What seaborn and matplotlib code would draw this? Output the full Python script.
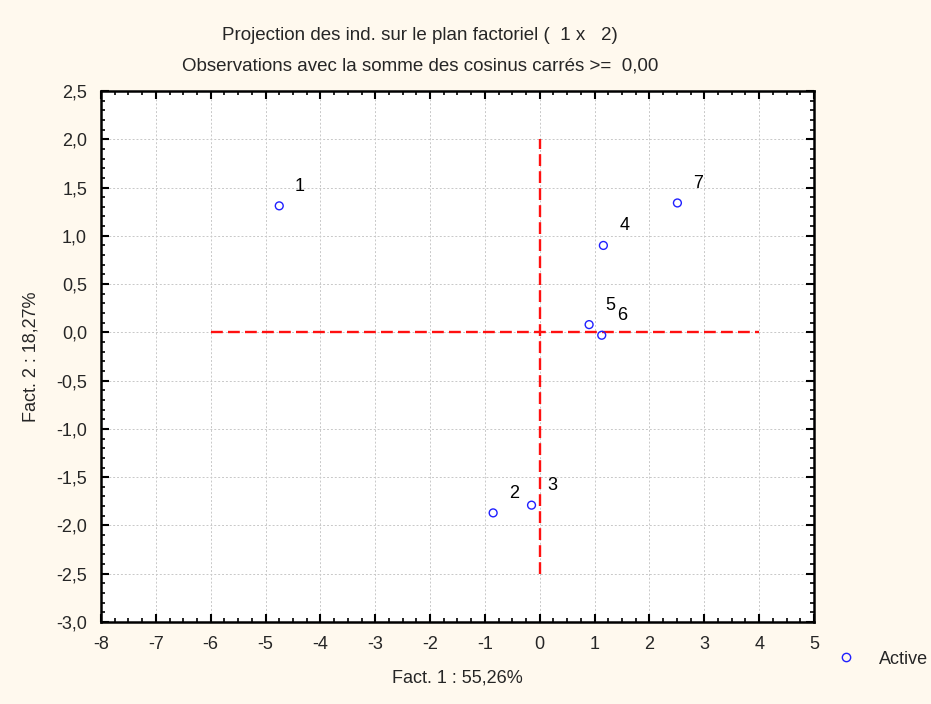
import matplotlib
matplotlib.use("Agg")
import matplotlib.pyplot as plt
from matplotlib.ticker import MultipleLocator, FuncFormatter
from matplotlib.lines import Line2D
import seaborn as sns
import pandas as pd

# Individual coordinates on the first factorial plane
labels = ["1", "2", "3", "4", "5", "6", "7"]
fact1 = [-4.75, -0.85, -0.15, 1.16, 0.90, 1.13, 2.51]
fact2 = [1.31, -1.87, -1.79, 0.90, 0.08, -0.03, 1.34]

x_ticks = [-8, -7, -6, -5, -4, -3, -2, -1, 0, 1, 2, 3, 4, 5]
y_ticks = [2.5, 2.0, 1.5, 1.0, 0.5, 0.0, -0.5, -1.0, -1.5, -2.0, -2.5, -3.0]

title_lines = ["Projection des ind. sur le plan factoriel (  1 x   2)",
               "Observations avec la somme des cosinus carrés >=  0,00"]
x_label = "Fact. 1 : 55,26%"
y_label = "Fact. 2 : 18,27%"
legend_label = "Active"

df = pd.DataFrame({"label": labels, "f1": fact1, "f2": fact2})

sns.set_style("white")
plt.rcParams["font.family"] = ["Liberation Sans", "DejaVu Sans"]

bg = "#FFF9EE"
fs = 13
fig = plt.figure(figsize=(9.31, 7.04), dpi=100, facecolor=bg)
ax = fig.add_axes([0.1085, 0.1165, 0.7658, 0.7543])
ax.set_facecolor("white")

# Reference axes through the origin
ax.plot([-6, 4], [0, 0], color="#FF1010", lw=1.7, linestyle=(0, (5, 2.2)), zorder=2)
ax.plot([0, 0], [-2.5, 2.0], color="#FF1010", lw=1.7, linestyle=(0, (5, 2.2)), zorder=2)

sns.scatterplot(data=df, x="f1", y="f2", ax=ax, marker="o", s=32,
                facecolors="none", edgecolor="#2020FF", linewidth=1.0,
                legend=False, zorder=3)

for lab, x, y in zip(labels, fact1, fact2):
    ax.annotate(lab, (x, y), xytext=(15, 14), textcoords="offset points",
                ha="center", va="center", fontsize=fs, color="black")

ax.set_xlim(min(x_ticks), max(x_ticks))
ax.set_ylim(min(y_ticks), max(y_ticks))
ax.set_xticks(x_ticks)
ax.set_yticks(y_ticks)
ax.xaxis.set_minor_locator(MultipleLocator(0.25))
ax.yaxis.set_minor_locator(MultipleLocator(0.1))
ax.xaxis.set_major_formatter(FuncFormatter(lambda v, p: f"{v:.0f}"))
ax.yaxis.set_major_formatter(FuncFormatter(lambda v, p: f"{v:.1f}".replace(".", ",")))

ax.grid(True, which="major", color="#C8C8C8", linestyle=(0, (2, 2)), linewidth=0.7)
ax.set_axisbelow(True)

for s in ax.spines.values():
    s.set_visible(True)
    s.set_color("black")
    s.set_linewidth(1.8)

ax.tick_params(which="both", direction="in", top=True, right=True,
               bottom=True, left=True, color="black", labelsize=fs)
ax.tick_params(which="major", length=6, width=1.5, pad=10)
ax.tick_params(which="minor", length=3, width=1.2)

ax.set_xlabel(x_label, fontsize=fs, labelpad=12)
ax.set_ylabel(y_label, fontsize=fs, labelpad=12)

fig.text(420 / 931, 1 - 35 / 704, title_lines[0], ha="center", va="center", fontsize=13.5)
fig.text(420 / 931, 1 - 66 / 704, title_lines[1], ha="center", va="center", fontsize=13.5)

handle = Line2D([], [], marker="o", linestyle="none", markerfacecolor="none",
                markeredgecolor="#2020FF", markersize=6, markeredgewidth=1.0)
fig.legend([handle], [legend_label], loc="center left",
           bbox_to_anchor=(821 / 931, 1 - 659 / 704), frameon=False,
           fontsize=fs, handletextpad=1.3, handlelength=1.0)

fig.savefig("out.png", dpi=100, facecolor=bg)
